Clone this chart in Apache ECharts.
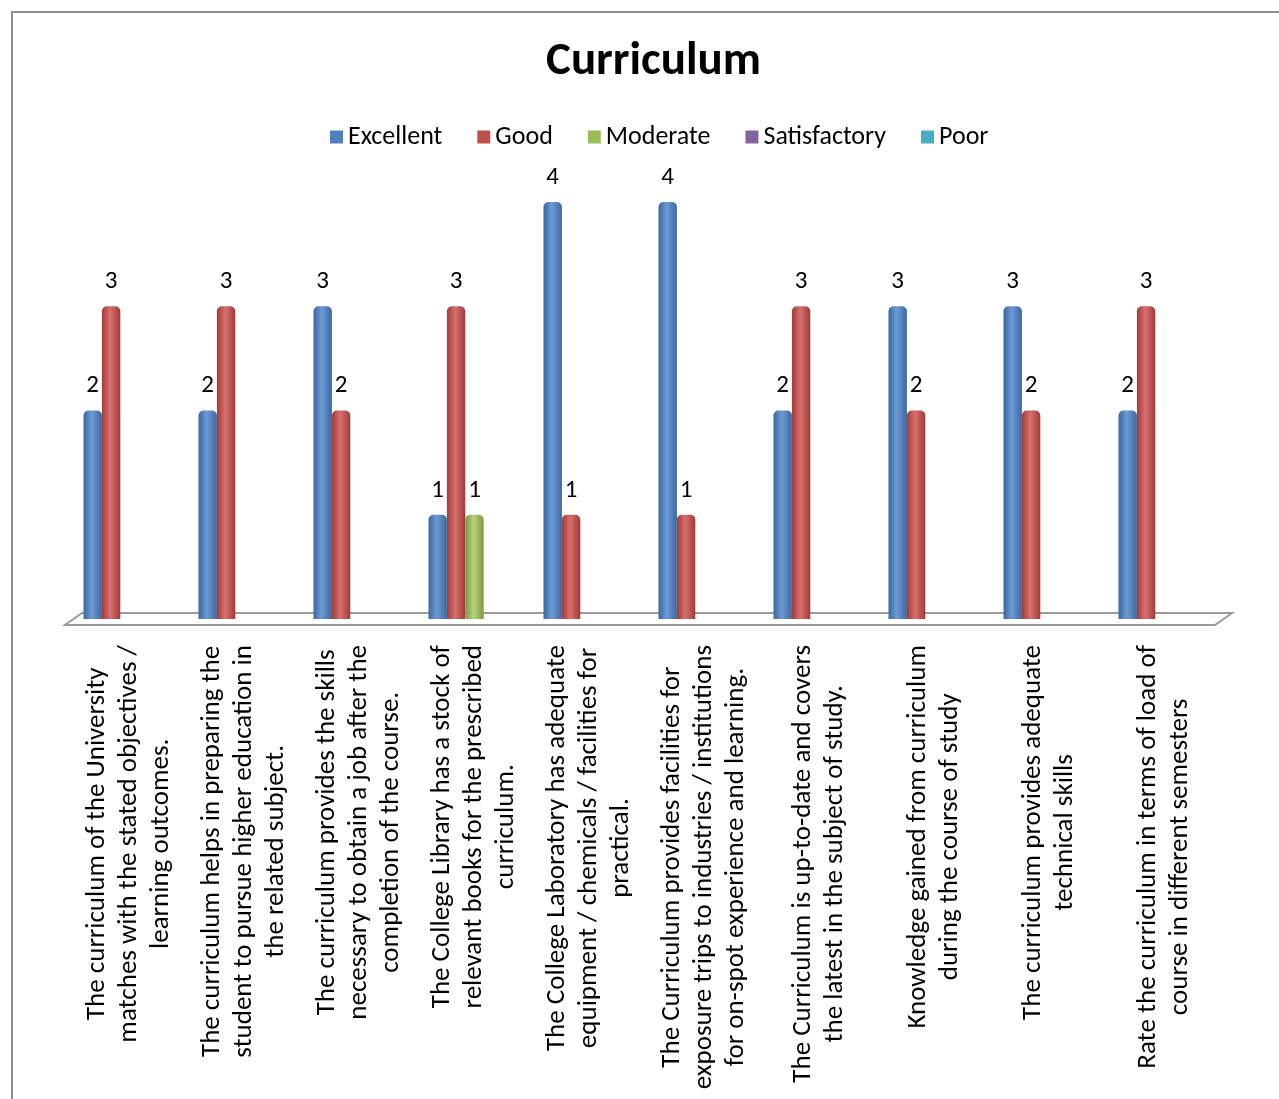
<!DOCTYPE html>
<html>
<head>
<meta charset="utf-8">
<script src="https://cdn.jsdelivr.net/npm/echarts@6/dist/echarts.min.js"></script>
<style>html,body{margin:0;padding:0;background:#fff;}#c{width:1279px;height:1099px;}</style>
</head>
<body>
<div id="c"></div>
<script>
const categories = [
  "The curriculum of the University\nmatches with the stated objectives /\nlearning outcomes.",
  "The curriculum helps in preparing the\nstudent to pursue higher education in\nthe related subject.",
  "The curriculum provides the skills\nnecessary to obtain a job after the\ncompletion of the course.",
  "The College Library has a stock of\nrelevant books for the prescribed\ncurriculum.",
  "The College Laboratory has adequate\nequipment / chemicals / facilities for\npractical.",
  "The Curriculum provides facilities for\nexposure trips to industries / institutions\nfor on-spot experience and learning.",
  "The Curriculum is up-to-date and covers\nthe latest in the subject of study.",
  "Knowledge gained from curriculum\nduring the course of study",
  "The curriculum provides adequate\ntechnical skills",
  "Rate the curriculum in terms of load of\ncourse in different semesters"
];
const seriesNames = ["Excellent", "Good", "Moderate", "Satisfactory", "Poor"];
const excellent    = [2, 2, 3, 1, 4, 4, 2, 3, 3, 2];
const good         = [3, 3, 2, 3, 1, 1, 3, 2, 2, 3];
const moderate     = [0, 0, 0, 1, 0, 0, 0, 0, 0, 0];
const satisfactory = [0, 0, 0, 0, 0, 0, 0, 0, 0, 0];
const poor         = [0, 0, 0, 0, 0, 0, 0, 0, 0, 0];
const valueTicks = [0, 1, 2, 3, 4];

const FONT = "Carlito, Lato, 'Open Sans', sans-serif";
const colors = ["#4F81BD", "#C0504D", "#9BBB59", "#8064A2", "#4BACC6"];
const darks  = ["#3A679E", "#9E3B39", "#7D9A43", "#654D85", "#358DA5"];
const lights = ["#6E9BD6", "#D9706D", "#B5D37A", "#9C82BE", "#6EC4DC"];
const allData = [excellent, good, moderate, satisfactory, poor];

function grad(i) {
  return new echarts.graphic.LinearGradient(0, 0, 1, 0, [
    {offset: 0, color: darks[i]},
    {offset: 0.45, color: lights[i]},
    {offset: 1, color: darks[i]}
  ]);
}

const GRID = {left: 72, right: 57, top: 202, bottom: 480};
const W = 1279, H = 1099;

const chart = echarts.init(document.getElementById('c'), null, {renderer: 'canvas'});
chart.setOption({
  backgroundColor: '#fff',
  animation: false,
  title: {
    text: 'Curriculum',
    left: 541,
    top: 34,
    textStyle: {fontFamily: FONT, fontSize: 47, fontWeight: 'bold', color: '#000'}
  },
  legend: {
    top: 119,
    left: 325,
    itemWidth: 13,
    itemHeight: 13,
    itemGap: 35,
    icon: 'rect',
    textStyle: {fontFamily: FONT, fontSize: 26, color: '#000'},
    data: seriesNames.map((n, i) => ({name: n, itemStyle: {color: colors[i]}}))
  },
  grid: Object.assign({containLabel: false}, GRID),
  xAxis: {
    type: 'category',
    data: categories,
    axisLine: {show: false},
    axisTick: {show: false},
    axisLabel: {
      interval: 0,
      rotate: 90,
      margin: 26,
      formatter: v => v.split('\n').map(l => '{c|' + l + '}').join('\n'),
      rich: {c: {align: 'center', fontFamily: FONT, fontSize: 27, lineHeight: 32, color: '#000'}}
    }
  },
  yAxis: {type: 'value', min: valueTicks[0], max: valueTicks[valueTicks.length - 1], interval: 1, show: false},
  series: seriesNames.map((n, i) => ({
    name: n,
    type: 'bar',
    data: allData[i],
    barGap: '0%',
    barCategoryGap: '20%',
    itemStyle: {color: grad(i), borderRadius: [5, 5, 0, 0]},
    label: {
      show: true,
      position: 'top',
      distance: 12,
      fontFamily: FONT,
      fontSize: 25,
      color: '#000',
      formatter: p => p.value === 0 ? '' : String(p.value)
    }
  }))
});

// 3D-style floor drawn around the value-axis zero line
const y0 = chart.convertToPixel({yAxisIndex: 0}, 0);
const gl = GRID.left, gr = W - GRID.right;
chart.setOption({
  graphic: [
    {
      type: 'polygon',
      z: -1,
      shape: {points: [[gl + 10, y0 - 6], [gr + 10, y0 - 6], [gr - 7, y0 + 6], [gl - 7, y0 + 6]]},
      style: {fill: '#fff', stroke: '#9a9a9a', lineWidth: 2},
      silent: true
    },
    {
      type: 'rect',
      shape: {x: 12, y: 12, width: 1300, height: 1120},
      style: {fill: 'none', stroke: '#8c8c8c', lineWidth: 2},
      silent: true
    }
  ]
});
</script>
</body>
</html>
